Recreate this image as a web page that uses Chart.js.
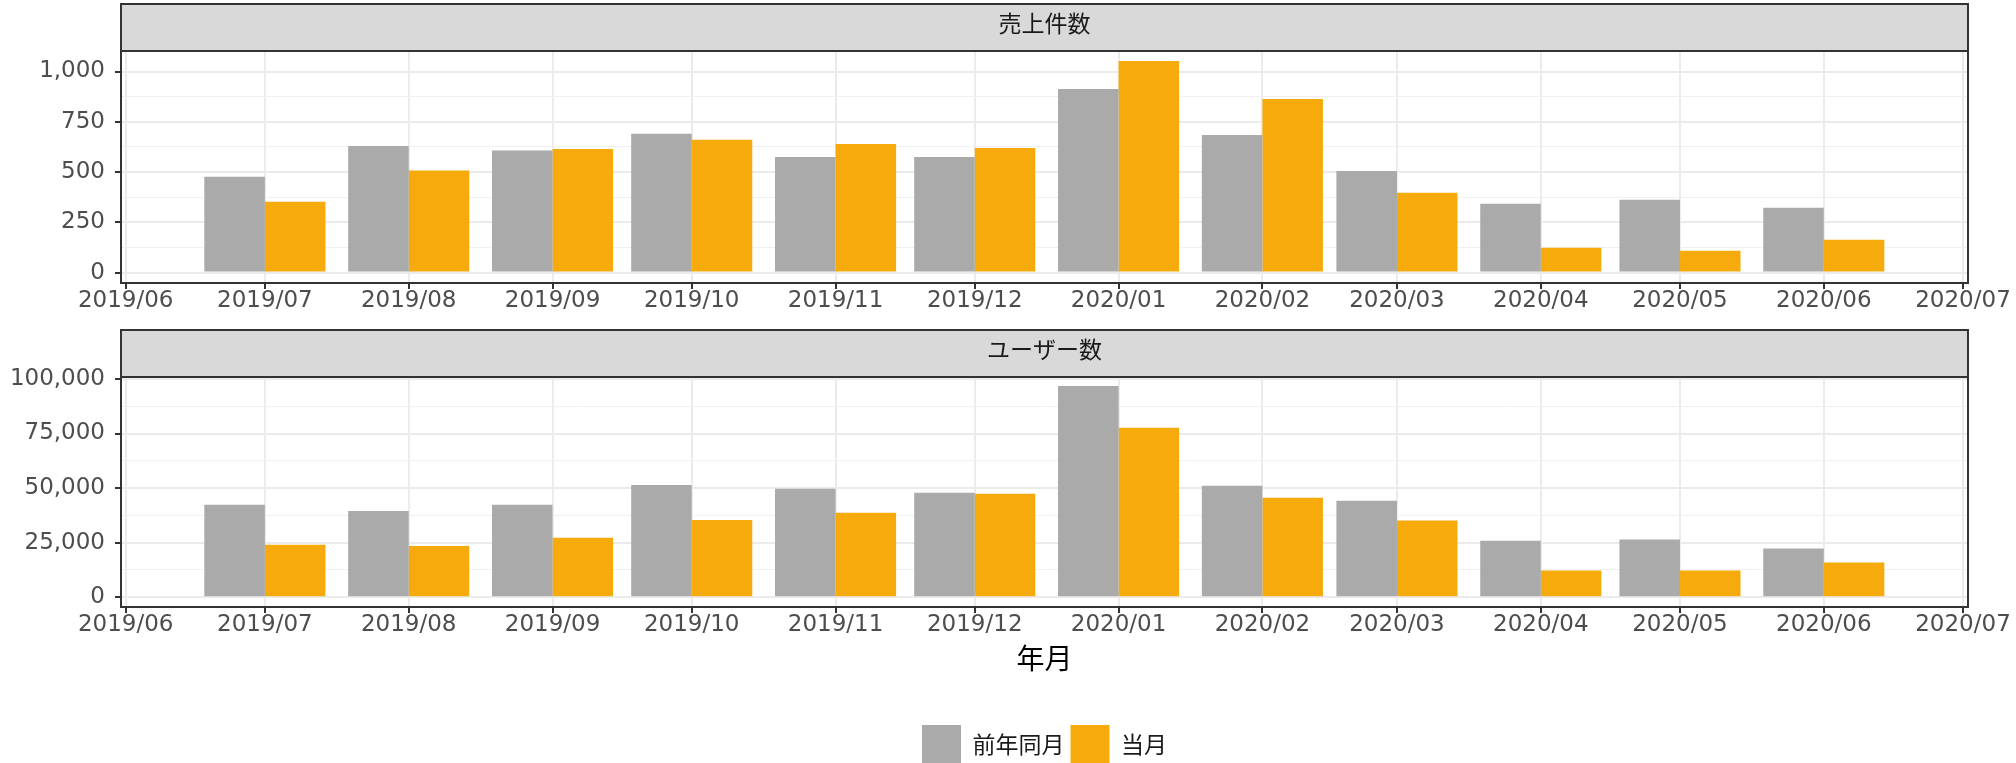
<!DOCTYPE html>
<html>
<head>
<meta charset="utf-8">
<script src="https://cdn.jsdelivr.net/npm/chart.js@4.4.1/dist/chart.umd.min.js"></script>
<style>
  html, body { margin: 0; padding: 0; background: #fff; overflow: hidden; width: 2016px; height: 763px; }
  .panel { position: absolute; left: 0; width: 2016px; }
  #salesWrap { top: 0; height: 320px; }
  #usersWrap { top: 320px; height: 453px; }
</style>
</head>
<body>
<div class="panel" id="salesWrap"><canvas id="salesChart" width="2016" height="320"></canvas></div>
<div class="panel" id="usersWrap"><canvas id="usersChart" width="2016" height="453"></canvas></div>
<script>
// データ
const months = ['2019/07', '2019/08', '2019/09', '2019/10', '2019/11', '2019/12',
                '2020/01', '2020/02', '2020/03', '2020/04', '2020/05', '2020/06'];
const tickLabels = ['2019/06', '2019/07', '2019/08', '2019/09', '2019/10', '2019/11', '2019/12',
                    '2020/01', '2020/02', '2020/03', '2020/04', '2020/05', '2020/06', '2020/07'];
const seriesNames = ['前年同月', '当月'];

const salesPrevYear  = [477, 629, 607, 690, 575, 575, 913, 684, 505, 342, 362, 322];
const salesThisMonth = [352, 507, 615, 660, 639, 619, 1052, 863, 397, 123, 108, 163];
const usersPrevYear  = [42300, 39500, 42300, 51400, 49700, 47900, 96800, 51100, 44200, 25900, 26400, 22300];
const usersThisMonth = [24000, 23500, 27200, 35400, 38700, 47400, 77600, 45600, 35100, 12200, 12200, 15900];

const salesTicks = [0, 250, 500, 750, 1000];
const usersTicks = [0, 25000, 50000, 75000, 100000];

const colors = ['#aaaaaa', '#f6aa0c'];

// 2019/06/01 からの日数
const origin = Date.UTC(2019, 5, 1);
function dayOf(label) {
    const [y, m] = label.split('/').map(Number);
    return (Date.UTC(y, m - 1, 1) - origin) / 86400000;
}

// ファセットの見出しと枠線
const facetFrame = {
    id: 'facetFrame',
    afterDraw(chart, args, opts) {
        const { ctx, chartArea: a } = chart;
        const w = a.right - a.left;
        ctx.save();
        ctx.fillStyle = '#d9d9d9';
        ctx.fillRect(a.left, a.top - opts.stripHeight, w, opts.stripHeight);
        ctx.strokeStyle = '#333333';
        ctx.lineWidth = 2;
        ctx.strokeRect(a.left, a.top - opts.stripHeight, w, opts.stripHeight);
        ctx.strokeRect(a.left, a.top, w, a.bottom - a.top);
        ctx.fillStyle = '#1a1a1a';
        ctx.font = '23px "Noto Sans CJK JP"';
        ctx.textAlign = 'center';
        ctx.textBaseline = 'middle';
        ctx.fillText(opts.text, a.left + w / 2, a.top - opts.stripHeight / 2 - 4);
        ctx.restore();
    }
};

function makeChart(id, title, prev, curr, yTicks, yMin, yMax, padTop, xHeight, isBottom) {
    const minor = [];
    for (let i = 1; i < yTicks.length; i++) minor.push((yTicks[i - 1] + yTicks[i]) / 2);
    const allY = yTicks.concat(minor).sort((a, b) => a - b);
    const isMajor = c => c.tick && yTicks.includes(c.tick.value);

    return new Chart(document.getElementById(id), {
        type: 'bar',
        data: {
            datasets: [prev, curr].map((vals, k) => ({
                label: seriesNames[k],
                data: months.map((m, i) => ({ x: dayOf(m), y: vals[i] })),
                backgroundColor: colors[k],
                borderWidth: 0
            }))
        },
        options: {
            responsive: false,
            animation: false,
            categoryPercentage: 0.9,
            barPercentage: 1.0,
            layout: { padding: { left: 0, right: 48, top: padTop, bottom: 0 } },
            scales: {
                x: {
                    type: 'linear',
                    offset: false,
                    min: -1.01,
                    max: 397.08,
                    afterBuildTicks: s => { s.ticks = tickLabels.map(l => ({ value: dayOf(l) })); },
                    afterFit: s => { s.height = xHeight; },
                    ticks: {
                        autoSkip: false, maxRotation: 0, padding: -2,
                        color: '#4d4d4d',
                        font: { family: 'DejaVu Sans', size: 23 },
                        callback: (v, i) => tickLabels[i]
                    },
                    grid: { offset: false, color: '#ebebeb', lineWidth: 2, tickColor: '#333333', tickLength: 6, tickWidth: 2 },
                    border: { display: false },
                    title: {
                        display: isBottom,
                        text: '年月',
                        color: '#000000',
                        font: { family: '"Noto Sans CJK JP"', size: 28 },
                        padding: { top: 0, bottom: 44 }
                    }
                },
                y: {
                    min: yMin,
                    max: yMax,
                    afterBuildTicks: s => { s.ticks = allY.map(v => ({ value: v })); },
                    afterFit: s => { s.width = 121; },
                    ticks: {
                        autoSkip: false, padding: 10,
                        color: '#4d4d4d',
                        font: { family: 'DejaVu Sans', size: 23 },
                        callback: v => yTicks.includes(v) ? v.toLocaleString('en-US') : ''
                    },
                    grid: {
                        color: c => isMajor(c) ? '#ebebeb' : '#f0f0f0',
                        lineWidth: c => isMajor(c) ? 2 : 1,
                        tickColor: c => isMajor(c) ? '#333333' : 'rgba(0,0,0,0)',
                        tickLength: 6,
                        tickWidth: 2
                    },
                    border: { display: false }
                }
            },
            plugins: {
                legend: {
                    display: isBottom,
                    position: 'bottom',
                    fullSize: false,
                    labels: {
                        boxWidth: 39, boxHeight: 38, padding: 6,
                        color: '#1a1a1a',
                        font: { family: '"Noto Sans CJK JP"', size: 23 }
                    }
                },
                tooltip: { enabled: false },
                facetFrame: { text: title, stripHeight: 47 }
            }
        },
        plugins: [facetFrame]
    });
}

makeChart('salesChart', '売上件数', salesPrevYear, salesThisMonth, salesTicks, -52, 1102, 51, 37, false);
makeChart('usersChart', 'ユーザー数', usersPrevYear, usersThisMonth, usersTicks, -4500, 100900, 57, 112, true);
</script>
</body>
</html>
